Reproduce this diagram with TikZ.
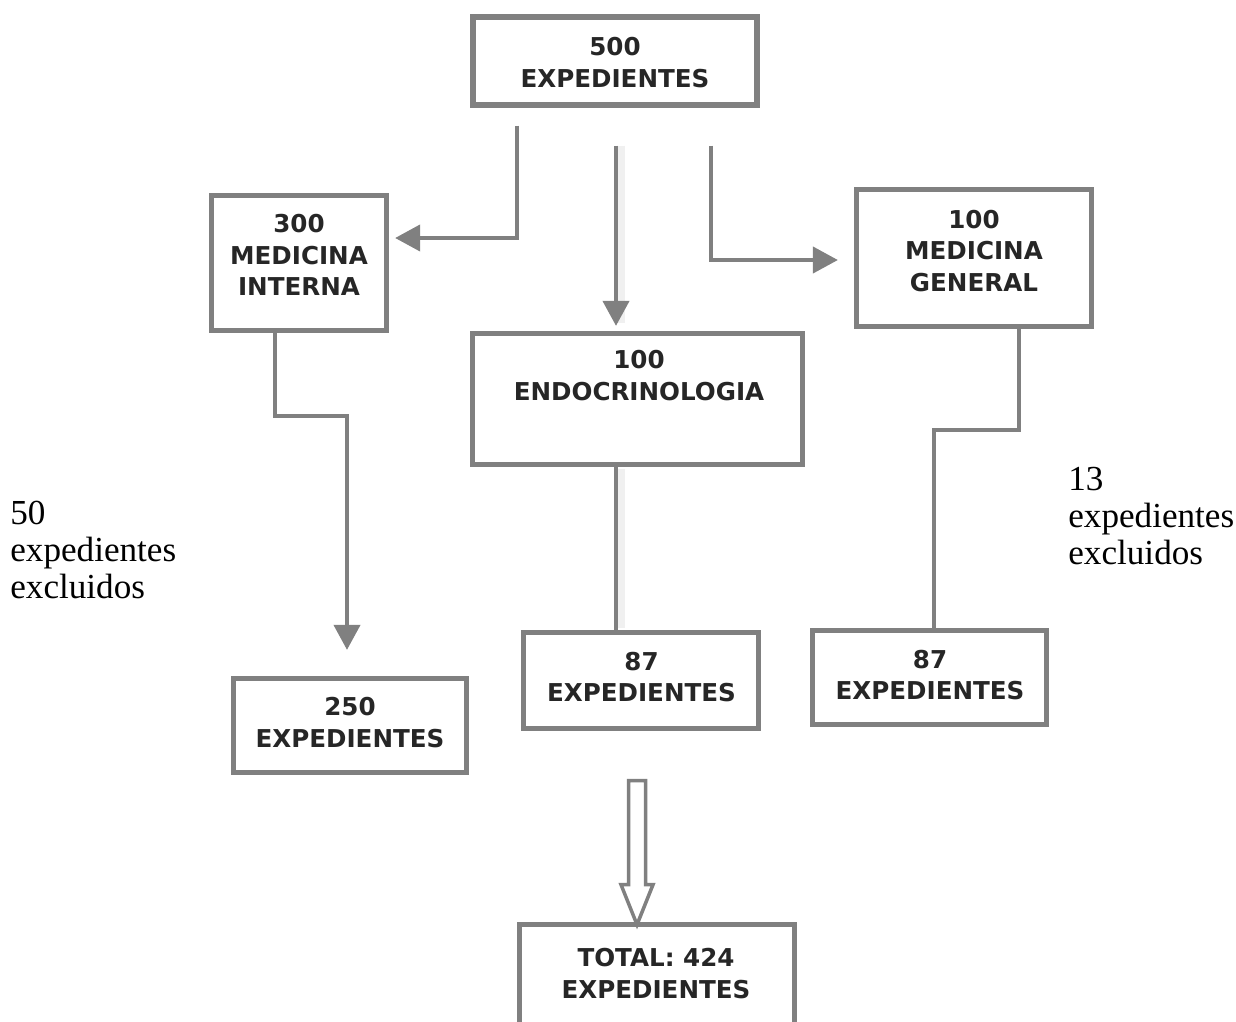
\documentclass[tikz,border=0pt]{standalone}
\usepackage{fontspec}
\newfontfamily\boxfont{DejaVu Sans}
\newfontfamily\notefont{Liberation Serif}
\usetikzlibrary{arrows.meta,calc}
\definecolor{linegray}{HTML}{808080}
\definecolor{textgray}{HTML}{262626}
\tikzset{box/.style={draw=linegray,line width=3pt,fill=white,inner sep=0pt}}
\tikzset{boxtext/.style={align=center,inner sep=0pt,text=textgray,
    font=\boxfont\bfseries\fontsize{14}{18}\selectfont}}
\tikzset{flow/.style={draw=linegray,line width=2.3pt,
    -{Triangle[length=0.5cm,width=0.52cm]}}}
\tikzset{link/.style={draw=linegray,line width=2.3pt}}
\tikzset{shade/.style={draw=black,opacity=0.06,line width=6pt}}
\tikzset{hollow/.style={draw=linegray,line width=2pt,fill=white,line join=miter}}
\tikzset{note/.style={align=left,inner sep=0pt,text=black,
    font=\notefont\fontsize{20}{21}\selectfont}}

\begin{document}
\begin{tikzpicture}[x=0.02cm,y=-0.02cm]

\useasboundingbox (0,0) rectangle (1236,1021);
\clip (0,0) rectangle (1236,1021);

%   cajas
\node[box,minimum width=5.68cm,minimum height=1.76cm] (top) at (615,61) {};
\node[box,minimum width=3.5cm,minimum height=2.7cm] (mi) at (299,263) {};
\node[box,minimum width=4.7cm,minimum height=2.74cm] (mg) at (974,258) {};
\node[box,minimum width=6.6cm,minimum height=2.62cm] (endo) at (637.5,399) {};
\node[box,minimum width=4.66cm,minimum height=1.88cm] (b250) at (350,725.5) {};
\node[box,minimum width=4.7cm,minimum height=1.92cm] (m87) at (641,680.5) {};
\node[box,minimum width=4.68cm,minimum height=1.88cm] (r87) at (929.5,677.5) {};
\node[box,minimum width=5.5cm,minimum height=2.2cm] (total) at (657,979.5) {};

%   textos de las cajas
\node[boxtext] (toptxt) at (615,62.5) {500\\EXPEDIENTES};
\node[boxtext] (mitxt) at (299,255) {300\\MEDICINA\\INTERNA};
\node[boxtext] (mgtxt) at (974,251) {100\\MEDICINA\\GENERAL};
\node[boxtext] (endotxt) at (639,375.5) {100\\ENDOCRINOLOGIA};
\node[boxtext] (b250txt) at (350,722.5) {250\\EXPEDIENTES};
\node[boxtext] (m87txt) at (641.5,677) {87\\EXPEDIENTES};
\node[boxtext] (r87txt) at (930,675) {87\\EXPEDIENTES};
\node[boxtext] (totaltxt) at (656,973.5) {TOTAL: 424\\EXPEDIENTES};

%   excluidos
\node[note,anchor=north west] (exmi) at (10,501) {50\\expedientes\\excluidos};
\node[note,anchor=north west] (exmg) at (1068,467) {13\\expedientes\\excluidos};

%   flechas desde 500
\draw[flow] ($(top.south)+(-98,18)$) |- ($(mi.east)+(6,-25)$);
\draw[shade] ($(top.south)+(5,38)$) -- ($(endo.north)+(-17.5,-8)$);
\draw[flow] ($(top.south)+(1,38)$) -- ($(endo.north)+(-21.5,-5)$);
\draw[flow] ($(top.south)+(96,38)$) |- ($(mg.west)+(-16,2)$);

%   hacia los expedientes
\draw[flow] ($(mi.south)+(-24,0)$) -- ++(0,82.5) coordinate (kmi)
    -| ($(b250.north)+(-3,-26)$);
\draw[shade] ($(endo.south)+(-17.5,2)$) -- ($(m87.north)+(-21,-2)$);
\draw[link] ($(endo.south)+(-21.5,0)$) -- ($(m87.north)+(-25,0)$);
\draw[link] ($(mg.south)+(45,0)$) -- ++(0,100.5) coordinate (kmg)
    -| ($(r87.north)+(4.5,0)$);

%   flecha hueca al total
\coordinate (ha) at ($(m87.south)+(-4,49.5)$);
\draw[hollow] (ha) ++(-8.5,0) -- ++(17,0) -- ++(0,104) -- ++(7.5,0)
    -- ++(-16,40) -- ++(-16,-40) -- ++(7.5,0) -- cycle;

\end{tikzpicture}
\end{document}
